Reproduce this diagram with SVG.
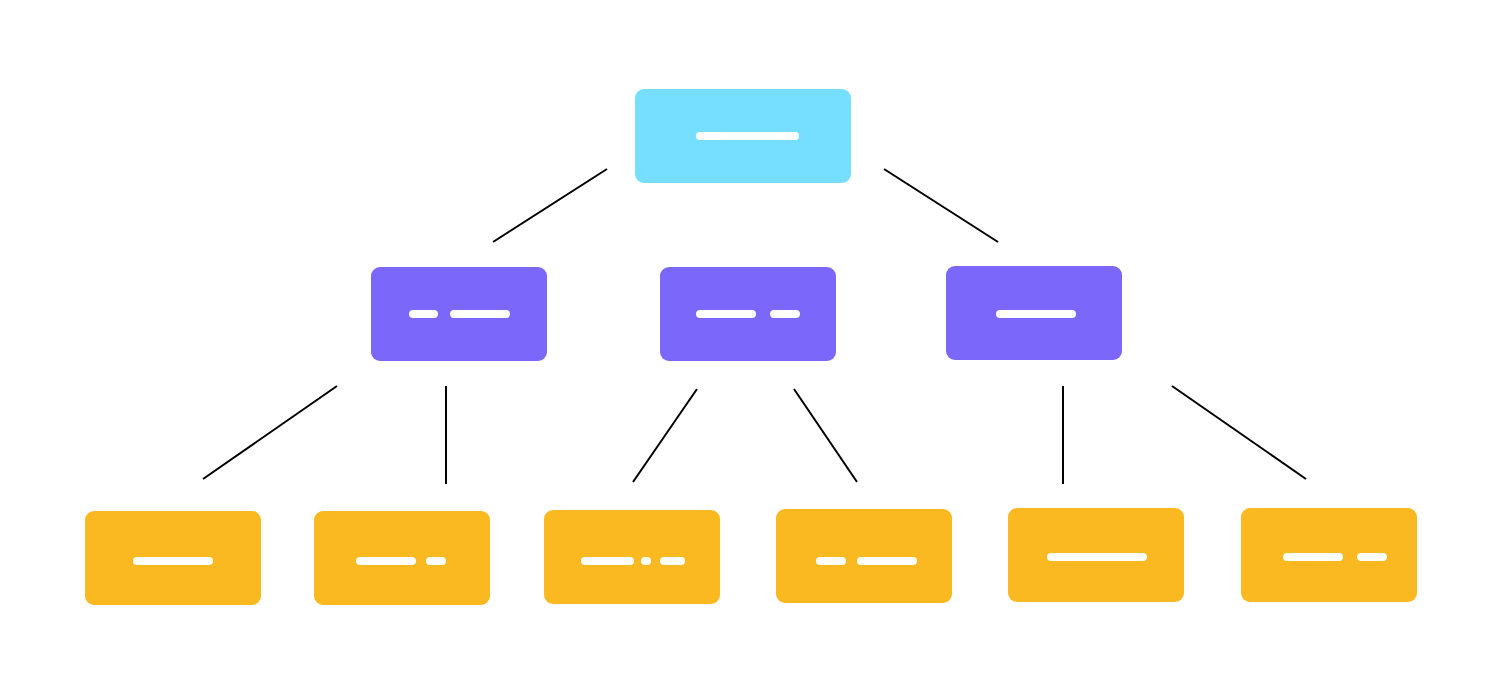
<svg xmlns="http://www.w3.org/2000/svg" width="1500" height="700" viewBox="0 0 1500 700">
<style>
.top{fill:#76DEFF}.mid{fill:#7B68FA}.leaf{fill:#FAB921}
.bar{stroke:#fff;stroke-width:8;stroke-linecap:round;fill:none}
.c{stroke:#000;stroke-width:2;fill:none}
</style>
<rect width="1500" height="700" fill="#fff"/>
<g id="connectors">
<line class="c" x1="607" y1="169" x2="493" y2="242"/>
<line class="c" x1="884" y1="169" x2="998" y2="242"/>
<line class="c" x1="337" y1="386" x2="203" y2="479"/>
<line class="c" x1="446" y1="386" x2="446" y2="484"/>
<line class="c" x1="697" y1="389" x2="633" y2="482"/>
<line class="c" x1="794" y1="389" x2="857" y2="482"/>
<line class="c" x1="1063" y1="386" x2="1063" y2="484"/>
<line class="c" x1="1172" y1="386" x2="1306" y2="479"/>
</g>
<g id="root"><rect class="top" x="635" y="89" width="216" height="94" rx="9"/><path class="bar" d="M700 136H795"/></g>
<g id="m1"><rect class="mid" x="371" y="267" width="176" height="94" rx="9"/><path class="bar" d="M413 314H434M454 314H506"/></g>
<g id="m2"><rect class="mid" x="660" y="267" width="176" height="94" rx="9"/><path class="bar" d="M700 314H752M774 314H796"/></g>
<g id="m3"><rect class="mid" x="946" y="266" width="176" height="94" rx="9"/><path class="bar" d="M1000 314H1072"/></g>
<g id="l1"><rect class="leaf" x="85" y="511" width="176" height="94" rx="9"/><path class="bar" d="M137 561H209"/></g>
<g id="l2"><rect class="leaf" x="314" y="511" width="176" height="94" rx="9"/><path class="bar" d="M360 561H412M430 561H442"/></g>
<g id="l3"><rect class="leaf" x="544" y="510" width="176" height="94" rx="9"/><path class="bar" d="M585 561H630M645 561H647M664 561H681"/></g>
<g id="l4"><rect class="leaf" x="776" y="509" width="176" height="94" rx="9"/><path class="bar" d="M820 561H842M861 561H913"/></g>
<g id="l5"><rect class="leaf" x="1008" y="508" width="176" height="94" rx="9"/><path class="bar" d="M1051 557H1143"/></g>
<g id="l6"><rect class="leaf" x="1241" y="508" width="176" height="94" rx="9"/><path class="bar" d="M1287 557H1339M1361 557H1383"/></g>
</svg>
